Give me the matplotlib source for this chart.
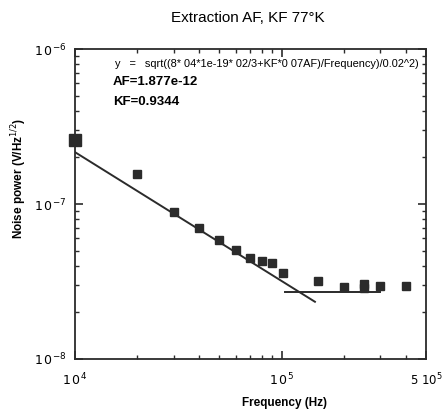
import matplotlib
matplotlib.use("Agg")
import matplotlib.pyplot as plt
from matplotlib.ticker import FixedLocator, LogLocator, NullFormatter

plt.rcParams['font.family'] = ['Liberation Sans', 'DejaVu Sans']

# measured noise points
freq = [1e4, 2e4, 3e4, 4e4, 5e4, 6e4, 7e4, 8e4, 9e4, 1.02e5, 1.5e5, 2e5, 2.5e5, 2.5e5, 3e5, 4e5]
noise = [2.59e-7, 1.56e-7, 8.9e-8, 7.0e-8, 5.9e-8, 5.05e-8, 4.5e-8, 4.27e-8, 4.14e-8,
         3.6e-8, 3.2e-8, 2.92e-8, 2.88e-8, 3.05e-8, 2.95e-8, 2.95e-8]

# fitted 1/f line and white noise floor
fit_f = [1e4, 1.45e5]
fit_y = [2.16e-7, 2.34e-8]
floor_f = [1.04e5, 3.0e5]
floor_y = [2.72e-8, 2.72e-8]

fig = plt.figure(figsize=(4.44, 4.12), dpi=100)
ax = fig.add_axes([75 / 444, 1 - 359 / 412, 351 / 444, 310 / 412])

dark = '#2b2b2b'
ax.plot(fit_f, fit_y, color=dark, lw=1.4)
ax.plot(floor_f, floor_y, color=dark, lw=1.4)
ax.plot(freq[1:], noise[1:], 's', color=dark, ms=6, mec=dark)
ax.plot(freq[:1], noise[:1], 's', color=dark, ms=8, mec=dark, clip_on=False)

ax.set_xscale('log')
ax.set_yscale('log')
ax.set_xlim(1e4, 5e5)
ax.set_ylim(1e-8, 1e-6)

ax.xaxis.set_major_locator(FixedLocator([1e4, 1e5, 5e5]))
ax.set_xticklabels([r'$1\,0^4$', r'$1\,0^5$', r'$5\ 10^5$'])
ax.xaxis.set_minor_locator(LogLocator(base=10, subs=range(2, 10)))
ax.xaxis.set_minor_formatter(NullFormatter())
ax.yaxis.set_major_locator(FixedLocator([1e-8, 1e-7, 1e-6]))
ax.set_yticklabels([r'$1\,0^{-8}$', r'$1\,0^{-7}$', r'$1\,0^{-6}$'])
ax.yaxis.set_minor_locator(LogLocator(base=10, subs=range(2, 10)))
ax.yaxis.set_minor_formatter(NullFormatter())

ax.tick_params(which='both', direction='in', top=True, right=True, colors=dark, labelcolor='black')
ax.tick_params(which='major', length=6, width=1.2, labelsize=9)
ax.tick_params(which='minor', length=3, width=1)
ax.tick_params(axis='x', which='major', pad=9)
ax.tick_params(axis='y', which='major', pad=6)
ax.get_xticklabels()[2].set_fontsize(8.5)
for s in ax.spines.values():
    s.set_linewidth(1.3)
    s.set_color(dark)

ax.text(115 / 444, 1 - 64 / 412, 'y   =   sqrt((8* 04*1e-19* 02/3+KF*0 07AF)/Frequency)/0.02^2)',
        transform=fig.transFigure, fontsize=7.9, va='center', ha='left')
ax.text(113 / 444, 1 - 82 / 412, 'AF=1.877e-12', transform=fig.transFigure,
        fontsize=9.5, fontweight='bold', va='center', ha='left')
ax.text(113 / 444, 1 - 102 / 412, 'KF=0.9344', transform=fig.transFigure,
        fontsize=9.5, fontweight='bold', va='center', ha='left')

fig.text(248 / 444, 1 - 18 / 412, 'Extraction AF, KF 77°K', fontsize=11,
         ha='center', va='center')
fig.text(284 / 444, 1 - 403 / 412, 'Frequency (Hz)', fontsize=8.5, fontweight='bold',
         ha='center', va='center')
fig.text(19 / 444, 1 - 178 / 412, r'Noise power (V/Hz$^{1/2}$)', fontsize=8.5,
         fontweight='bold', rotation=90, ha='center', va='center')

fig.savefig('out.png', dpi=100)
